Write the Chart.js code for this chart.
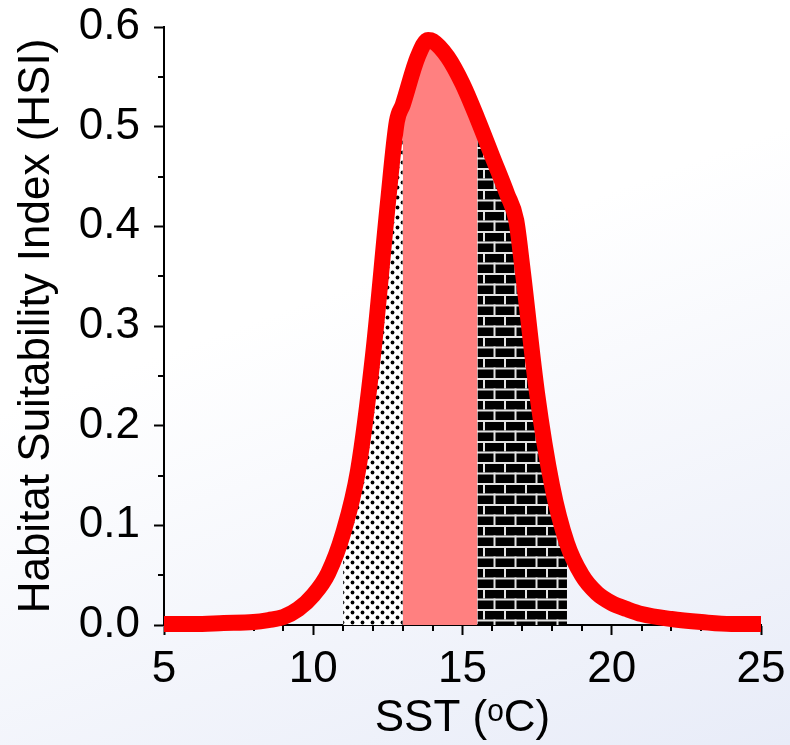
<!DOCTYPE html>
<html>
<head>
<meta charset="utf-8">
<title>HSI vs SST</title>
<script src="https://cdn.jsdelivr.net/npm/chart.js"></script>
<style>
  html, body { margin: 0; padding: 0; }
  body {
    width: 790px; height: 745px; overflow: hidden;
    background: linear-gradient(160deg, #ffffff 40%, #e8ecf8 100%);
  }
  canvas { display: block; }
</style>
</head>
<body>
<canvas id="hsiChart" width="790" height="745"></canvas>
<script>
// HSI curve, sampled along SST (deg C)
var sst = [5, 6, 7, 8, 8.5, 9, 9.5, 10, 10.5, 11, 11.5, 12, 12.5, 12.8, 13, 13.5, 13.85, 14,
           14.5, 15, 15.5, 16, 16.5, 16.8, 17, 17.5, 18, 18.5, 19, 19.5, 20, 20.5, 21, 22, 23, 24, 25];
var hsi = [0.001, 0.001, 0.002, 0.003, 0.005, 0.008, 0.016, 0.03, 0.052, 0.092, 0.155, 0.27, 0.423, 0.505, 0.522, 0.57, 0.587, 0.586,
           0.57, 0.543, 0.508, 0.47, 0.432, 0.406, 0.36, 0.232, 0.14, 0.082, 0.05, 0.032, 0.022, 0.016, 0.011, 0.006, 0.003, 0.001, 0.001];

// shaded SST bands under the curve
var bandEdges = [11, 13, 15.5, 18.5];

// axis ticks
var xMajor = [5, 10, 15, 20, 25];
var xMinor = [6, 7, 8, 9, 11, 12, 13, 14, 16, 17, 18, 19, 21, 22, 23, 24];
var yMajor = [0, 0.1, 0.2, 0.3, 0.4, 0.5, 0.6];
var yLabels = ['0.0', '0.1', '0.2', '0.3', '0.4', '0.5', '0.6'];
var yMinor = [0.05, 0.15, 0.25, 0.35, 0.45, 0.55];

function makeDots() {
  var c = document.createElement('canvas');
  c.width = 10; c.height = 10;
  var g = c.getContext('2d');
  g.fillStyle = '#ffffff';
  g.fillRect(0, 0, 10, 10);
  g.fillStyle = '#000000';
  [[2.5, 2.5], [7.5, 7.5]].forEach(function (p) {
    g.beginPath(); g.arc(p[0], p[1], 1.9, 0, Math.PI * 2); g.fill();
  });
  return g.createPattern(c, 'repeat');
}

function makeBricks() {
  var c = document.createElement('canvas');
  c.width = 21; c.height = 21;
  var g = c.getContext('2d');
  g.fillStyle = '#000000';
  g.fillRect(0, 0, 21, 21);
  g.fillStyle = '#e4e4e4';
  g.fillRect(0, 0, 21, 2);
  g.fillRect(0, 10.5, 21, 2);
  g.fillRect(0, 0, 2, 10.5);
  g.fillRect(10.5, 10.5, 2, 10.5);
  return g.createPattern(c, 'repeat');
}

var curve = sst.map(function (x, i) { return { x: x, y: hsi[i] }; });

function bandPoints(lo, hi) {
  return curve.filter(function (p) { return p.x >= lo && p.x <= hi; });
}

var bandFills = [makeDots(), '#ff8080', makeBricks()];

var datasets = [{
  label: 'HSI',
  data: curve,
  borderColor: '#ff0000',
  borderWidth: 16,
  pointRadius: 0,
  fill: false,
  cubicInterpolationMode: 'monotone',
  clip: false
}];
for (var b = 0; b < bandEdges.length - 1; b++) {
  datasets.push({
    label: 'band' + b,
    data: bandPoints(bandEdges[b], bandEdges[b + 1]),
    borderWidth: 0,
    borderColor: 'rgba(0,0,0,0)',
    backgroundColor: bandFills[b],
    pointRadius: 0,
    fill: 'origin',
    cubicInterpolationMode: 'monotone'
  });
}

// shorter minor tick marks on both axes
var minorTicks = {
  id: 'minorTicks',
  beforeDatasetsDraw: function (chart) {
    var ctx = chart.ctx, xs = chart.scales.x, ys = chart.scales.y;
    ctx.save();
    ctx.strokeStyle = '#000';
    ctx.lineWidth = 2;
    ctx.beginPath();
    xMinor.forEach(function (v) {
      var px = Math.round(xs.getPixelForValue(v));
      ctx.moveTo(px, xs.top); ctx.lineTo(px, xs.top + 6);
    });
    yMinor.forEach(function (v) {
      var py = Math.round(ys.getPixelForValue(v));
      ctx.moveTo(ys.right - 6, py); ctx.lineTo(ys.right, py);
    });
    ctx.stroke();
    ctx.restore();
  }
};

var font = { family: 'Liberation Sans, Arial, sans-serif', size: 44 };

new Chart(document.getElementById('hsiChart'), {
  type: 'line',
  data: { datasets: datasets },
  plugins: [minorTicks],
  options: {
    responsive: false,
    animation: false,
    layout: { padding: { top: 27, right: 29, left: 0, bottom: 0 } },
    plugins: { legend: { display: false }, tooltip: { enabled: false } },
    scales: {
      x: {
        type: 'linear', min: 5, max: 25,
        afterBuildTicks: function (s) { s.ticks = xMajor.map(function (v) { return { value: v }; }); },
        afterFit: function (s) { s.height = 120; s.paddingLeft = 0; s.paddingRight = 0; },
        ticks: { font: font, color: '#000', padding: 8, maxRotation: 0 },
        grid: { drawOnChartArea: false, tickLength: 10, tickColor: '#000', tickWidth: 2 },
        border: { color: '#000', width: 2 },
        title: { display: true, text: 'SST (ᵒC)', font: font, color: '#000', padding: { top: 0, bottom: 0 } }
      },
      y: {
        type: 'linear', min: 0, max: 0.6,
        afterBuildTicks: function (s) { s.ticks = yMajor.map(function (v) { return { value: v }; }); },
        afterFit: function (s) { s.width = 164; s.paddingTop = 0; s.paddingBottom = 0; },
        ticks: {
          font: font, color: '#000', padding: 14,
          callback: function (v) { return yLabels[yMajor.indexOf(Math.round(v * 10) / 10)]; }
        },
        grid: { drawOnChartArea: false, tickLength: 10, tickColor: '#000', tickWidth: 2 },
        border: { color: '#000', width: 2 },
        title: { display: true, text: 'Habitat Suitability Index (HSI)', font: font, color: '#000', padding: { top: 10, bottom: 0 } }
      }
    }
  }
});
</script>
</body>
</html>
